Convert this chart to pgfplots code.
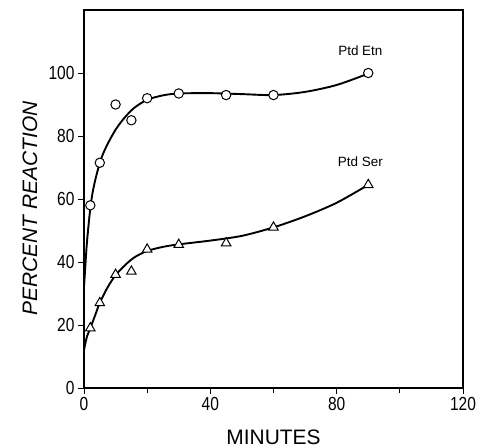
\documentclass[border=0pt]{standalone}
\usepackage{fontspec}
\setmainfont{Liberation Sans}
\newfontfamily\tickfont[FakeStretch=0.82]{Liberation Sans}
\usepackage{pgfplots}
\pgfplotsset{compat=1.18}

% fitted curves
\pgfplotstableread{
x y
0 32
0.5 40
1 47
2 57
3 63.5
5 71.5
7 76.5
10 82
13 86
16 89
20 91.5
25 92.9
30 93.5
40 93.6
50 93.3
60 93
70 94
80 96.2
90 99.8
}\etncurve
\pgfplotstableread{
x y
0 12
0.5 14.5
1 16.5
2 19
3.5 23
5 27
7.5 32
10 35.8
13 39
16 41.5
20 43.5
25 44.8
30 45.6
40 46.8
50 48.3
60 51
70 54.5
80 58.8
90 64.5
}\sercurve
% measured points
\pgfplotstableread{
x y
2 58
5 71.5
10 90
15 85
20 92
30 93.5
45 93
60 93
90 100
}\etnpts
\pgfplotstableread{
x y
2 19
5 27
10 36
15 37
20 44
30 45.5
45 46
60 51
90 64.5
}\serpts

\begin{document}
\begin{tikzpicture}
\begin{axis}[
	scale only axis,
	width=379bp, height=378bp,
	xmin=0, xmax=120, ymin=0, ymax=120,
	xtick={0,40,80,120},
	minor xtick={20,60,100},
	ytick={0,20,...,100},
	xtick pos=left, ytick pos=left,
	tick align=outside,
	major tick length=6bp, minor tick length=5bp,
	tick style={black, line width=0.9bp},
	axis line style={line width=1.1bp},
	/pgf/number format/assume math mode=true,
	ticklabel style={font=\tickfont\fontsize{19}{19}\selectfont},
	xlabel={MINUTES},
	ylabel={\itshape PERCENT REACTION},
	label style={font=\fontsize{21}{21}\selectfont},
	xlabel style={at={(axis description cs:0.5,0)}, anchor=center, yshift=-49bp},
	ylabel style={at={(axis description cs:0,0.475)}, anchor=center, yshift=54bp},
]
\addplot[black, line width=1.9bp, smooth] table {\etncurve};
\addplot[black, line width=1.9bp, smooth] table {\sercurve};
\addplot[only marks, mark=*, mark size=4.7bp,
	mark options={fill=white, draw=black, line width=1bp}] table {\etnpts};
\addplot[only marks, mark=triangle*, mark size=5.5bp,
	mark options={fill=white, draw=black, line width=1bp}] table {\serpts};
\node[font=\fontsize{13.5}{13.5}\selectfont] at (axis cs:87.5,107) {Ptd Etn};
\node[font=\fontsize{13.5}{13.5}\selectfont] at (axis cs:87.5,72) {Ptd Ser};
\end{axis}
\pgfresetboundingbox
\path (current axis.south west) ++(-84bp,-60bp) rectangle ++(478bp,448bp);
\end{tikzpicture}
\end{document}
